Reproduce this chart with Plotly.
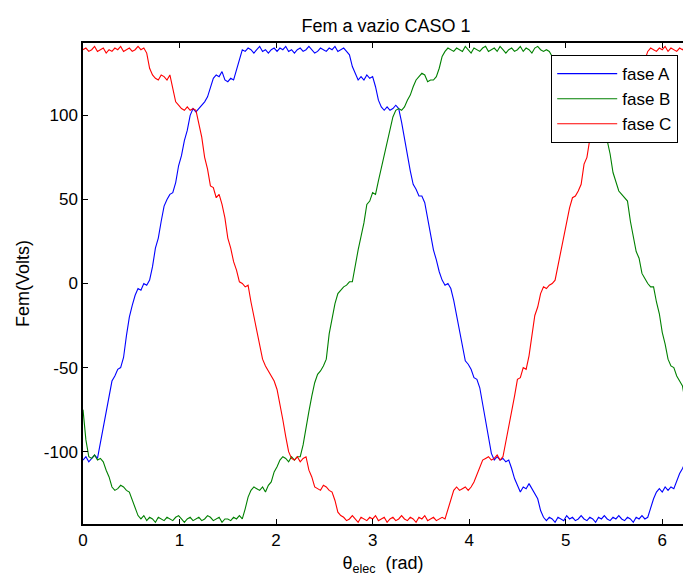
import numpy as np
import plotly.graph_objects as go

# sampling grid of electrical angle (rad)
theta = np.round(np.arange(0, 210) * 0.03, 2)

fase_A = [
    -105, -103, -106, -104, -102, -104, -95, -86, -75, -68,
    -58, -55, -51, -50, -44, -31, -20, -13, -7, -3,
    -4, 0, -1, 2, 10, 21, 27, 37, 46, 50,
    53, 54, 60, 70, 76, 85, 91, 100, 104, 102,
    104, 106, 108, 111, 116, 122, 124, 123, 126, 121,
    120, 122, 121, 127, 134, 139, 138, 140, 139, 137,
    139, 141, 138, 139, 137, 139, 140, 138, 140, 139,
    141, 138, 139, 137, 139, 140, 138, 139, 141, 139,
    137, 138, 140, 139, 138, 140, 139, 141, 138, 139,
    140, 138, 136, 129, 125, 121, 123, 121, 124, 122,
    123, 117, 109, 105, 103, 105, 103, 104, 106, 104,
    96, 86, 76, 67, 59, 56, 52, 52, 48, 38,
    28, 20, 14, 7, 2, -1, 0, -3, -10, -19,
    -28, -37, -46, -48, -51, -56, -57, -62, -72, -80,
    -90, -101, -105, -103, -105, -104, -106, -105, -110, -116,
    -120, -124, -121, -122, -119, -122, -125, -128, -135, -139,
    -141, -139, -140, -142, -139, -140, -141, -138, -140, -139,
    -141, -140, -138, -140, -141, -139, -140, -142, -139, -140,
    -138, -140, -141, -139, -140, -138, -140, -141, -139, -140,
    -142, -139, -140, -138, -140, -139, -133, -128, -124, -122,
    -124, -121, -123, -121, -122, -117, -113, -110, -106, -104,
]

fase_B = [
    -75, -93, -103, -104, -102, -105, -104, -106, -111, -115,
    -121, -123, -122, -120, -121, -123, -124, -129, -134, -138,
    -140, -138, -141, -139, -140, -142, -139, -140, -141, -139,
    -140, -141, -139, -138, -140, -142, -140, -139, -141, -140,
    -139, -141, -140, -138, -139, -141, -140, -139, -142, -140,
    -140, -141, -139, -140, -138, -140, -134, -127, -123, -121,
    -122, -123, -121, -124, -120, -118, -112, -109, -105, -103,
    -104, -106, -103, -105, -103, -103, -96, -85, -76, -67,
    -59, -54, -52, -49, -45, -30, -21, -12, -6, -4,
    -2, -1, 1, 1, 11, 20, 28, 36, 47, 49,
    54, 53, 61, 69, 77, 84, 92, 99, 103, 104,
    103, 105, 109, 112, 117, 121, 123, 125, 124, 120,
    121, 121, 123, 128, 135, 138, 140, 139, 138, 140,
    139, 138, 141, 139, 137, 140, 139, 138, 140, 141,
    138, 139, 140, 138, 141, 139, 137, 139, 140, 138,
    139, 141, 138, 140, 139, 137, 140, 141, 139, 138,
    139, 138, 135, 130, 124, 122, 121, 123, 122, 124,
    122, 118, 108, 104, 105, 103, 104, 106, 103, 105,
    97, 85, 77, 66, 60, 55, 53, 51, 49, 37,
    29, 19, 15, 6, 3, 0, -2, -2, -11, -18,
    -29, -36, -45, -49, -50, -55, -58, -61, -71, -81,
]

fase_C = [
    139, 140, 138, 139, 141, 138, 139, 140, 137, 139,
    138, 140, 139, 141, 138, 139, 140, 138, 139, 141,
    139, 140, 137, 128, 124, 122, 121, 124, 123, 121,
    124, 116, 108, 106, 104, 103, 105, 103, 104, 103,
    95, 87, 75, 68, 58, 57, 51, 53, 47, 39,
    27, 21, 13, 8, 1, 0, -2, -1, -11, -20,
    -27, -38, -45, -49, -52, -55, -58, -63, -71, -81,
    -91, -100, -104, -105, -103, -106, -104, -103, -111, -115,
    -121, -122, -123, -120, -121, -123, -124, -129, -136, -138,
    -139, -141, -140, -138, -140, -142, -139, -140, -141, -139,
    -140, -138, -141, -140, -139, -142, -140, -139, -141, -140,
    -138, -140, -141, -139, -140, -142, -139, -140, -138, -141,
    -140, -139, -141, -140, -139, -140, -134, -129, -123, -121,
    -123, -122, -121, -123, -121, -118, -114, -109, -105, -104,
    -103, -105, -104, -102, -105, -103, -94, -87, -76, -67,
    -57, -56, -50, -51, -43, -32, -19, -14, -6, -2,
    -3, -1, 0, 2, 11, 20, 28, 36, 45, 51,
    52, 55, 59, 71, 75, 86, 90, 101, 103, 104,
    103, 105, 107, 112, 117, 121, 125, 122, 125, 120,
    121, 121, 122, 128, 133, 138, 140, 139, 138, 140,
    139, 141, 138, 140, 139, 138, 140, 139, 141, 138,
]

series_names = ["fase A", "fase B", "fase C"]
series_colors = ["#0000FF", "#008000", "#FF0000"]
x_ticks = [0, 1, 2, 3, 4, 5, 6]
y_ticks = [-100, -50, 0, 50, 100]
y_tick_text = ["-100", "-50", "0", "50", "100"]

FONT = "Liberation Sans, Arial, Helvetica, sans-serif"

fig = go.Figure()
for name, ys, col in zip(series_names, [fase_A, fase_B, fase_C], series_colors):
    fig.add_trace(go.Scatter(x=theta, y=ys, mode="lines", name=name,
                             line=dict(color=col, width=1.1)))

fig.update_layout(
    width=683, height=576,
    margin=dict(l=83, r=0, t=43, b=52),
    paper_bgcolor="white", plot_bgcolor="white",
    font=dict(family=FONT, size=17, color="black"),
    title=dict(text="Fem a vazio CASO 1", x=386 / 683, xref="container", xanchor="center",
               y=1 - 26 / 576, yref="container", yanchor="middle",
               font=dict(family=FONT, size=18, color="black")),
    legend=dict(x=0.992, y=0.975, xanchor="right", yanchor="top",
                bgcolor="white", bordercolor="black", borderwidth=1,
                font=dict(family=FONT, size=17), itemwidth=60,
                tracegroupgap=0),
    showlegend=True,
)
fig.update_xaxes(range=[0, 6.215], tickvals=x_ticks, ticks="inside", ticklen=5,
                 tickcolor="black", showline=True, linecolor="black", linewidth=1.5,
                 mirror="ticks", showgrid=False, zeroline=False,
                 tickfont=dict(family=FONT, size=17),
                 title=dict(text="θ<sub>elec</sub>  (rad)", standoff=8,
                            font=dict(family=FONT, size=18)))
fig.update_yaxes(range=[-143, 143], tickvals=y_ticks, ticktext=y_tick_text,
                 ticks="inside", ticklen=5,
                 tickcolor="black", showline=True, linecolor="black", linewidth=1.5,
                 mirror=False, showgrid=False, zeroline=False,
                 tickfont=dict(family=FONT, size=17),
                 title=dict(text="Fem(Volts)", standoff=10,
                            font=dict(family=FONT, size=18)))

fig.write_html("out.html")
